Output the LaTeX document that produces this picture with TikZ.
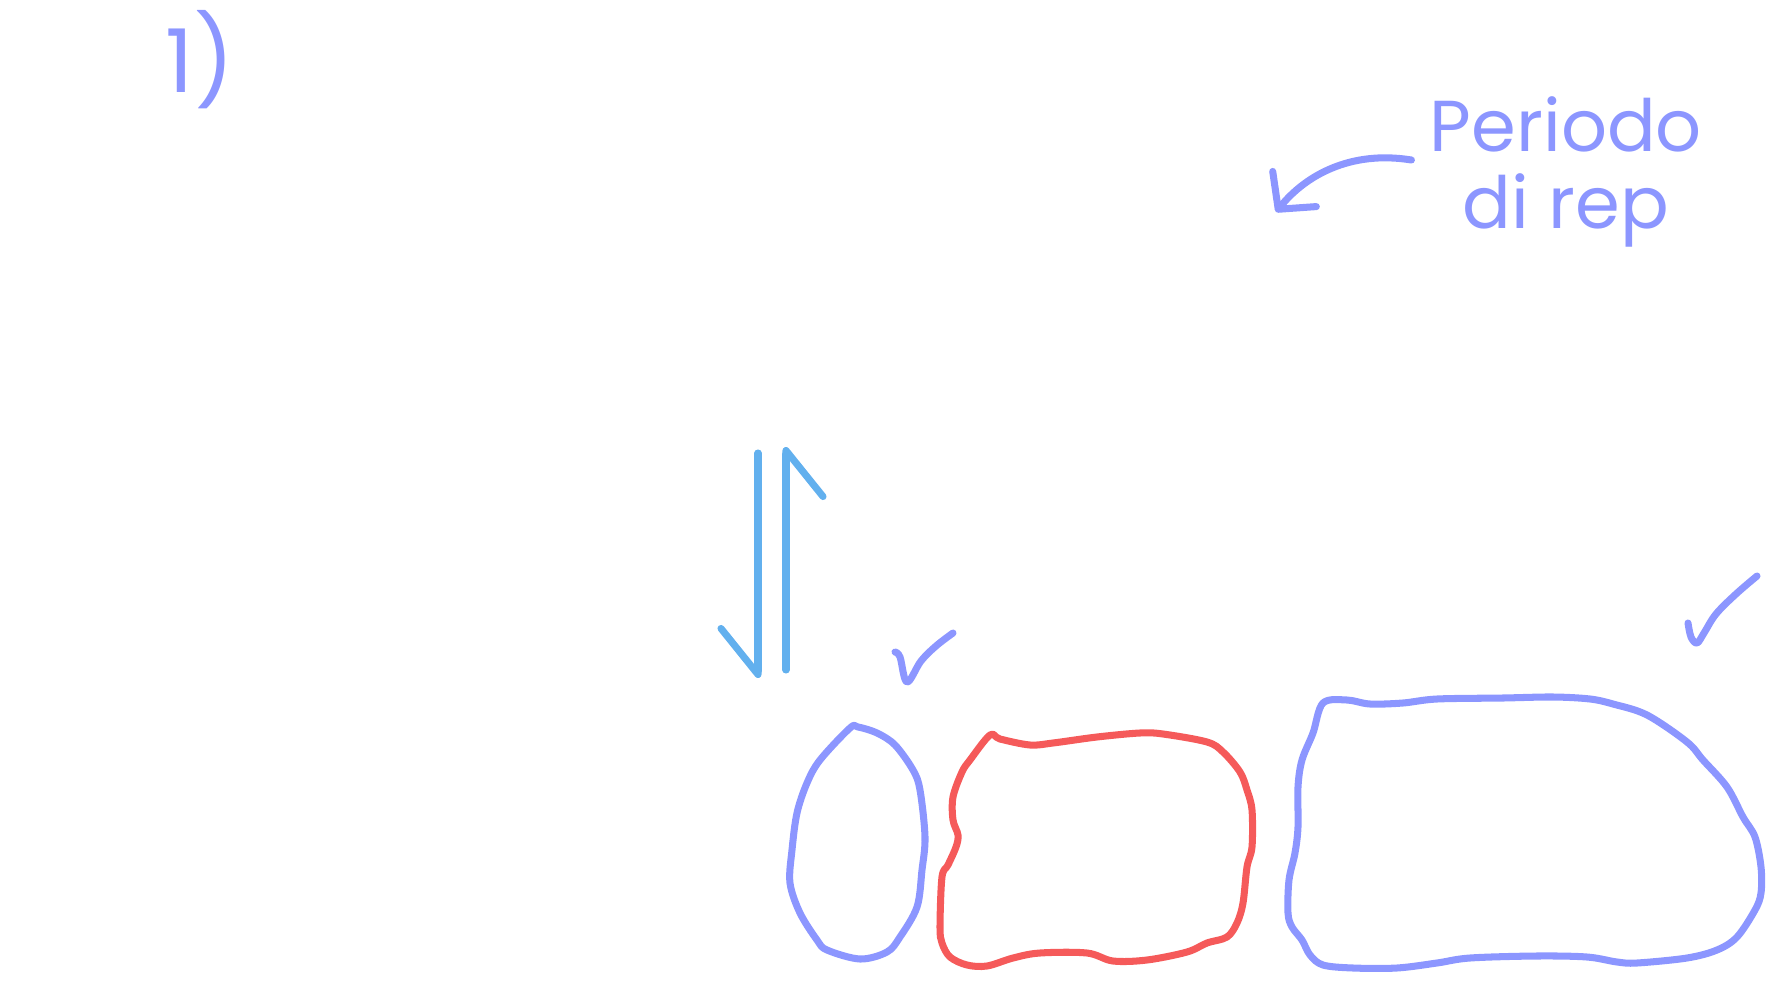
\documentclass[tikz,border=0pt]{standalone}
\usepackage{fontspec}
\newfontfamily\handfont{Poppins}
\usepackage{tikz}
\usetikzlibrary{arrows.meta, calc}

\definecolor{penblue}{HTML}{8C96FF}
\definecolor{penred}{HTML}{F55A5A}
\definecolor{arrowblue}{HTML}{62B0EE}

\begin{document}
\begin{tikzpicture}[
        x=0.01cm, y=-0.01cm,
        line width=2pt, line cap=round, line join=round,
        % Define styles for the pen strokes and the written notes
        blueline/.style={draw=penblue},
        redline/.style={draw=penred},
        flow/.style={draw=arrowblue, -{Straight Barb[right, length=4.6mm, width=7.4mm, round]}},
        pointer/.style={draw=penblue, -{Straight Barb[length=2.6mm, width=5.6mm, round]}},
        note/.style={text=penblue, inner sep=0pt, align=center, font=\handfont\fontsize{20.5}{22}\selectfont}
    ]
    \useasboundingbox (0,0) rectangle (1766,1000);

    % Write the notes
    \node[note, font=\handfont\fontsize{25}{28}\selectfont] (num) at (200,60) {1)};
    \node[note] (period) at (1566,172) {Periodo\\di rep};

    % Draw the pointer from the note
    \coordinate (repTip) at (1276,212);
    \draw[pointer] ($(period.west)+(-15,-12)$) .. controls (1350,150) and (1305,176) .. (repTip);

    % Draw the two blue arrows
    \coordinate (downTop) at (758,453);
    \coordinate (downEnd) at (758,678);
    \coordinate (upStart) at (786,670);
    \coordinate (upEnd) at (786,447);
    \draw[flow] (downTop) -- (downEnd);
    \draw[flow] (upStart) -- (upEnd);

    % Draw the check marks
    \draw[blueline] plot[smooth, tension=0.6] coordinates {(895,652) (900,657) (907,682) (921,661) (936,646) (953,633)};
    \draw[blueline] plot[smooth, tension=0.6] coordinates {(1688,623) (1691,637) (1697,643) (1704,633) (1716,614) (1736,594) (1757,576)};

    % Draw the small blue oval
    \draw[blueline] plot[smooth cycle, tension=0.55] coordinates {
        (820,760) (850,728) (858,727) (877,733) (895,745) (913,770) (920,790)
        (925,837) (922,870) (917,907) (900,937) (887,952) (860,959) (827,950)
        (817,940) (800,913) (790,883) (792,850) (797,813) (807,783)};

    % Draw the red blob
    \draw[redline] plot[smooth cycle, tension=0.55] coordinates {
        (990,735) (1000,739) (1030,745) (1053,743) (1097,737) (1140,733) (1163,734)
        (1207,742) (1223,752) (1240,772) (1247,790) (1252,810) (1252,847)
        (1247,867) (1243,903) (1237,923) (1227,937) (1207,943) (1187,952)
        (1147,960) (1113,961) (1087,953) (1040,953) (1013,958) (987,966)
        (967,965) (950,957) (942,943) (940,927) (942,877) (948,865) (956,847)
        (958,835) (953,820) (953,797) (962,772) (970,760)};

    % Draw the big blue blob
    \draw[blueline] plot[smooth cycle, tension=0.55] coordinates {
        (1323,703) (1347,700) (1370,704) (1403,703) (1437,699) (1503,698)
        (1553,697) (1590,699) (1613,704) (1647,715) (1687,742) (1703,760)
        (1727,787) (1743,817) (1755,837) (1761,867) (1761,893) (1755,910)
        (1737,937) (1717,950) (1687,958) (1637,963) (1617,962) (1587,957)
        (1537,956) (1470,958) (1437,963) (1397,968) (1353,968) (1323,965)
        (1310,955) (1302,940) (1292,927) (1288,913) (1289,880) (1295,853)
        (1298,827) (1298,787) (1302,760) (1313,733)};

\end{tikzpicture}
\end{document}
